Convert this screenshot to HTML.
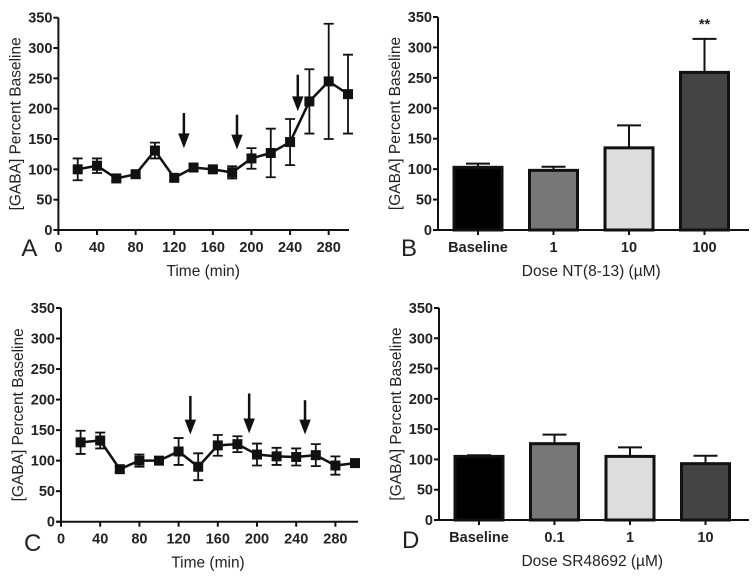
<!DOCTYPE html>
<html><head><meta charset="utf-8"><style>
body{margin:0;background:#fff}
svg{display:block}
text{font-family:"Liberation Sans",Arial,sans-serif;fill:#222}
.tk{font-size:14.5px;font-weight:bold}
.ax{font-size:15.5px}
.pl{font-size:24px}
</style></head><body>
<svg id="s" width="754" height="580"></svg>
<script>
const timesA=[20,40,60,80,100,120,140,160,180,200,220,240,260,280,300];
const valsA=[100,106,85,92,131,86,103,100,95,118,127,145,212,245,224];
const errA=[18,12,4,6,13,4,5,4,10,17,40,38,53,95,65];
const arrowsA=[[130,193,137],[185,190,135],[248,256,198]];
const timesC=[20,40,60,80,100,120,140,160,180,200,220,240,260,280,300];
const valsC=[130,133,86,100,100,115,90,125,127,110,107,106,109,92,96];
const errC=[19,13,5,10,3,22,22,17,13,18,14,14,18,15,5];
const arrowsC=[[132,206,145],[192,210,147],[249,199,145]];
const catsB=["Baseline","1","10","100"];
const valsB=[103,98,135,259];
const errB=[6,6,37,55];
const catsD=["Baseline","0.1","1","10"];
const valsD=[105,126,105,93];
const errD=[2,15,15,13];
const fills=["#000","#777","#ddd","#444"];
const yTicks=[0,50,100,150,200,250,300,350];
const xTicks=[0,40,80,120,160,200,240,280];

const S=document.getElementById('s');const NS='http://www.w3.org/2000/svg';
function el(t,a,p){const e=document.createElementNS(NS,t);for(const k in a)e.setAttribute(k,a[k]);(p||S).appendChild(e);return e;}
function tx(x,y,s,cls,anchor,p){const e=el('text',{x:x,y:y,class:cls,'text-anchor':anchor||'middle'},p);e.textContent=s;return e;}

function yAxis(g,x0,y0,y350,x1,label,letter,lx,ly){
  const sy=v=>y0-(y0-y350)*v/350;
  el('line',{x1:x0,y1:y350,x2:x0,y2:y0,stroke:'#111','stroke-width':2},g);
  el('line',{x1:x0-4,y1:y0,x2:x1,y2:y0,stroke:'#111','stroke-width':2},g);
  yTicks.forEach(v=>{el('line',{x1:x0-5,y1:sy(v),x2:x0,y2:sy(v),stroke:'#111','stroke-width':2},g);
    const t=tx(x0-6,sy(v)+5,v,'tk','end',g);});
  const yl=tx(0,0,label,'ax','middle',g);yl.setAttribute('transform',`translate(${x0-38},${(y0+y350)/2}) rotate(-90)`);
  
  const L=tx(lx,ly,letter,'pl','start',g);
  return sy;
}
function linePanel(name,x0,x300,y0,y350,x1,times,vals,errs,arrows,letter,ly){
  const g=el('g',{});
  const sy=yAxis(g,x0,y0,y350,x1,'[GABA] Percent Baseline',letter,x0-37,ly);
  const sx=t=>x0+(x300-x0)*t/300;
  xTicks.forEach(t=>{el('line',{x1:sx(t),y1:y0,x2:sx(t),y2:y0+5,stroke:'#111','stroke-width':2},g);
    const l=tx(sx(t),y0+22,t,'tk','middle',g);});
  const xl=tx((x0+x300)/2,y0+46,'Time (min)','ax','middle',g);
  times.forEach((t,i)=>{const x=sx(t),a=sy(vals[i]+errs[i]),b=sy(vals[i]-errs[i]);
    const e=el('path',{d:`M${x},${a}V${b}M${x-5},${a}H${x+5}M${x-5},${b}H${x+5}`,stroke:'#111','stroke-width':1.8,fill:'none'},g);
    });
  const ln=el('polyline',{points:times.map((t,i)=>sx(t)+','+sy(vals[i])).join(' '),stroke:'#111','stroke-width':2.5,fill:'none'},g);
  
  times.forEach((t,i)=>{const m=el('rect',{x:sx(t)-5,y:sy(vals[i])-5,width:10,height:10,fill:'#111'},g);
    });
  arrows.forEach(a=>{const x=sx(a[0]),t=sy(a[1]),b=sy(a[2]);
    const ag=el('g',{},g);
    el('line',{x1:x,y1:t,x2:x,y2:b-10,stroke:'#111','stroke-width':2.5},ag);
    el('path',{d:`M${x-5},${b-13}L${x+5},${b-13}L${x},${b}Z`,fill:'#111',stroke:'#111','stroke-width':1},ag);});
}
function barPanel(name,x0,y0,y350,x1,cats,vals,errs,title,letter,ly,star){
  const g=el('g',{});
  const sy=yAxis(g,x0,y0,y350,x1,'[GABA] Percent Baseline',letter,x0-37,ly);
  const sx=i=>x0+40+75.5*i;
  cats.forEach((c,i)=>{const cx=sx(i);
    const e=el('path',{d:`M${cx},${sy(vals[i])}V${sy(vals[i]+errs[i])}M${cx-12},${sy(vals[i]+errs[i])}H${cx+12}`,stroke:'#111','stroke-width':2,fill:'none'},g);
    
    const r=el('rect',{x:cx-24,y:sy(vals[i]),width:48,height:y0-sy(vals[i]),fill:fills[i],stroke:'#111','stroke-width':3},g);
    
    el('line',{x1:cx,y1:y0,x2:cx,y2:y0+5,stroke:'#111','stroke-width':2},g);
    const l=tx(cx,y0+22,c,'tk','middle',g);
    if(star===i){const s=tx(cx,sy(340)+6,'**','tk','middle',g);}
  });
  const xl=tx(sx(1.5),y0+46,title,'ax','middle',g);
}
linePanel('panel-a',58.4,348,230,17.7,349,timesA,valsA,errA,arrowsA,'A',256);
linePanel('panel-c',61,355,521.7,308,358,timesC,valsC,errC,arrowsC,'C',551);
barPanel('panel-b',438,230,17,749,catsB,valsB,errB,'Dose NT(8-13) (\u00b5M)','B',256,3);
barPanel('panel-d',439,520,308,749,catsD,valsD,errD,'Dose SR48692 (\u00b5M)','D',548,-1);
</script>
</body></html>
